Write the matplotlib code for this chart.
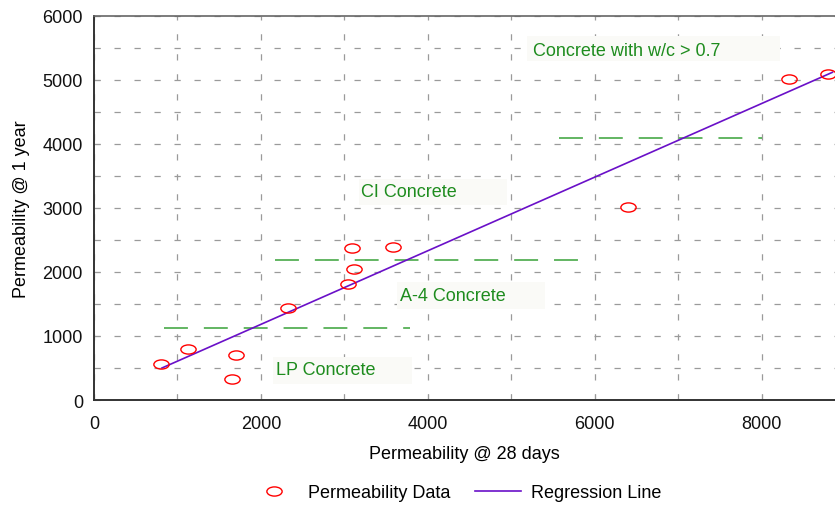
import matplotlib
matplotlib.use("Agg")
import matplotlib.pyplot as plt
from matplotlib.path import Path
from matplotlib.patches import Rectangle
from matplotlib.transforms import Affine2D
from matplotlib.ticker import MultipleLocator

plt.rcParams['font.family'] = ['Liberation Sans', 'DejaVu Sans']

# Measured permeability: 28 days vs 1 year
perm_28d = [802, 1126, 1696, 1653, 2323, 3042, 3114, 3090, 3581, 6395, 8323, 8802]
perm_1y = [562, 797, 703, 328, 1437, 1812, 2047, 2375, 2390, 3016, 5016, 5094]

# Regression line end points
reg_x = [814, 8850]
reg_y = [500, 5120]

# Class boundaries (dashed)
bound_y = [1130, 2190, 4100]
bound_x0 = [838, 2168, 5569]
bound_x1 = [3784, 5796, 8000]

# Class labels with their shaded boxes
class_labels = ["LP Concrete", "A-4 Concrete", "CI Concrete", "Concrete with w/c > 0.7"]
label_x = [2180, 3665, 3198, 5257]
label_y = [470, 1630, 3250, 5460]
box_x0 = [2144, 3629, 3174, 5186]
box_x1 = [3808, 5401, 4946, 8216]
box_y0 = [250, 1422, 3047, 5297]
box_y1 = [672, 1844, 3453, 5688]

FS = 13

fig = plt.figure(figsize=(8.35, 5.06), dpi=100)
ax = fig.add_axes([0.1126, 0.2075, 0.8874, 0.759])

ellipse = Path.unit_circle().transformed(Affine2D().scale(1.0, 0.6))

ax.grid(True, which='both', color='#9a9a9a', linestyle=(0, (5, 11)), linewidth=0.9)
ax.set_axisbelow(True)

for y, x0, x1 in zip(bound_y, bound_x0, bound_x1):
    ax.plot([x0, x1], [y, y], color='#62b662', linewidth=1.4,
            linestyle=(0, (12.3, 8.2)), zorder=2)

ax.plot(reg_x, reg_y, color='#6a10c8', linewidth=1.2, label='Regression Line', zorder=3)
ax.plot(perm_28d, perm_1y, linestyle='none', marker=ellipse, markersize=11,
        markerfacecolor='none', markeredgecolor='#ff0000', markeredgewidth=1.0,
        label='Permeability Data', zorder=4)

for txt, x, y, x0, x1, y0, y1 in zip(class_labels, label_x, label_y,
                                     box_x0, box_x1, box_y0, box_y1):
    ax.add_patch(Rectangle((x0, y0), x1 - x0, y1 - y0, facecolor='#fafaf7',
                           edgecolor='none', zorder=5))
    ax.text(x, y, txt, color='#1e8c1e', fontsize=FS, va='center', ha='left', zorder=6)

ax.set_xlim(0, 8880)
ax.set_ylim(0, 6000)
ax.xaxis.set_major_locator(MultipleLocator(2000))
ax.xaxis.set_minor_locator(MultipleLocator(1000))
ax.yaxis.set_major_locator(MultipleLocator(1000))
ax.yaxis.set_minor_locator(MultipleLocator(500))
ax.tick_params(which='both', direction='in', length=4, color='#9a9a9a',
               labelsize=FS, labelcolor='#111111')
ax.tick_params(axis='x', pad=11)
ax.tick_params(axis='y', pad=8)

for side in ['left', 'bottom']:
    ax.spines[side].set_color('#333333')
    ax.spines[side].set_linewidth(1.4)
ax.spines['top'].set_color('#666666')
ax.spines['top'].set_linewidth(1.2)
ax.spines['right'].set_visible(False)

ax.set_xlabel('Permeability @ 28 days', fontsize=FS, labelpad=9)
ax.set_ylabel('Permeability @ 1 year', fontsize=FS, labelpad=9)

handles, labels = ax.get_legend_handles_labels()
fig.legend(handles[::-1], labels[::-1], loc='center', bbox_to_anchor=(0.547, 0.024),
           ncol=2, frameon=False, fontsize=FS, handlelength=2.5, handletextpad=0.6,
           columnspacing=1.4)

fig.savefig('out.png', dpi=100)
